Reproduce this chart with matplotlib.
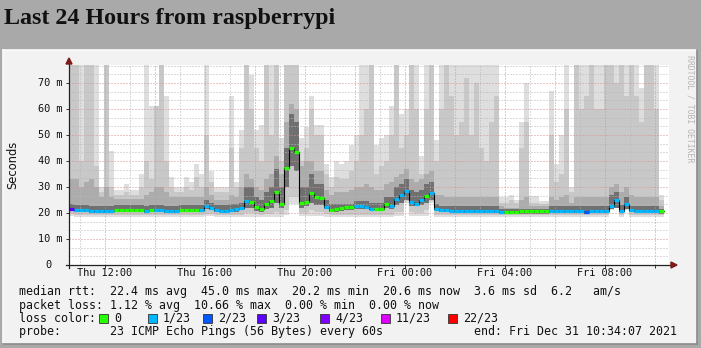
import matplotlib
matplotlib.use("Agg")
import matplotlib.pyplot as plt
import numpy as np
from matplotlib.patches import Rectangle, Polygon
from matplotlib.lines import Line2D

W, H = 701, 348

# 12 minute bins, first one starts Thu 10:34:07 (hours since Thu 00:00)
t0 = 10 + 34 / 60 + 7 / 3600
step = 0.2

# smoke: sorted ping ranks per bin (ms), 80 = above the graph top
p22 = [80, 80, 80, 80, 80, 80, 30, 80, 44, 29,
       29, 31, 29, 29, 35, 80, 61, 61, 80, 65,
       34, 30, 30, 34, 32, 39, 35, 80, 36, 30,
       30, 30, 65, 32, 52, 80, 73, 52, 54, 80,
       80, 80, 49, 80, 80, 80, 49, 53, 65, 54,
       54, 39, 34, 40, 39, 40, 46, 50, 80, 80,
       80, 46, 49, 50, 61, 80, 58, 60, 80, 80,
       42, 80, 80, 48, 80, 80, 80, 80, 80, 80,
       80, 80, 80, 80, 80, 80, 26, 26, 27, 25,
       55, 70, 26.5, 26.5, 24.5, 24.5, 67, 39, 50, 80,
       30, 80, 80, 80, 80, 80, 80, 80, 80, 80,
       80, 80, 80, 80, 68, 80, 80, 80, 27]
p20 = [80, 80, 40, 80, 80, 38, 28, 80, 30, 27,
       27, 28, 27, 27, 30, 40, 33, 61, 80, 40,
       30, 28, 28, 30, 29, 34, 30, 50, 32, 28,
       28, 28, 45, 30, 45, 80, 60, 45, 40, 80,
       50, 80, 40, 80, 80, 80, 40, 45, 60, 50,
       50, 35, 30, 34, 33, 33, 36, 40, 50, 60,
       80, 35, 38, 40, 50, 80, 45, 50, 80, 60,
       35, 60, 80, 40, 60, 80, 65, 50, 55, 72,
       50, 70, 45, 40, 55, 65, 24, 24, 25, 24,
       45, 55, 24, 24, 23.5, 23.5, 50, 32, 35, 60,
       28, 80, 60, 65, 80, 60, 60, 80, 80, 70,
       80, 65, 80, 65, 55, 80, 80, 60, 25]
p16 = [33, 33, 30, 32, 33, 30, 26, 30, 26, 25.5,
       25.5, 25.5, 25.5, 25.5, 25.5, 27, 28, 30, 30, 28,
       26, 26, 26, 26, 26, 26, 26, 30, 27, 25,
       25, 25, 27, 26, 30, 35, 33, 30, 29, 33,
       35, 42, 35, 55, 62, 60, 38, 40, 40, 36,
       36, 29, 27, 28, 28, 28, 29, 30, 30, 31,
       30, 29, 29, 31, 32, 34, 35, 37, 33, 32,
       33, 35, 36, 27, 27, 26, 26, 26, 26, 26,
       26, 26, 26, 26, 26, 26, 22.5, 22, 22, 22,
       25, 26, 22.5, 22.5, 22.5, 22.5, 26, 25, 26, 27,
       24, 26, 26, 26, 26, 26, 26, 26, 30, 31,
       28, 30, 27, 26, 26, 26, 26, 26, 22.5]
p13 = [23.5, 23, 23, 23, 22.8, 22.8, 22.8, 22.8, 22.8, 23,
       23, 23, 23, 23, 23, 22.8, 23, 23, 23, 22.8,
       22.8, 22.8, 23, 23, 23, 23, 23, 25, 24, 23,
       23, 23, 23.5, 23.5, 24, 30, 30, 26, 25, 28,
       30, 37, 30, 45, 58, 55, 30, 30, 35, 31,
       31, 25, 23.5, 23.5, 23.5, 23.5, 23.5, 24.5, 24.5, 24.5,
       24, 24, 24, 26, 26, 30, 31, 33, 29, 28,
       29, 31, 32, 23.5, 22.5, 22.5, 22.5, 22.5, 22.5, 22.5,
       22.5, 22.5, 22.5, 22.5, 22.5, 22.5, 21.5, 21.5, 21.5, 21.5,
       21.5, 21.5, 21.5, 21.5, 21.5, 21.5, 22.5, 22.5, 22.5, 22.5,
       22.5, 22.5, 22.5, 22.5, 22.5, 22.5, 22.5, 22.5, 27, 28,
       23, 26, 22.5, 22.5, 22.5, 22.5, 22.5, 22.5, 21.5]
median = [21.7, 21.2, 21.2, 21.0, 20.8, 20.8, 20.8, 20.8, 20.8, 21.0,
          21.0, 21.2, 21.0, 21.2, 21.2, 20.8, 21.0, 21.0, 21.0, 20.8,
          20.8, 20.8, 21.0, 21.2, 21.2, 21.0, 21.2, 22.8, 22.0, 21.2,
          20.8, 20.6, 21.2, 21.5, 22.1, 24.5, 24.2, 22.2, 21.4, 23.3,
          24.6, 28.2, 23.5, 37.4, 45.0, 43.5, 23.8, 24.4, 27.7, 26.0,
          25.6, 22.4, 21.2, 21.5, 21.9, 22.2, 22.3, 22.8, 22.8, 22.4,
          21.7, 21.7, 21.7, 23.6, 22.6, 25.2, 26.8, 28.3, 24.2, 23.6,
          24.9, 26.7, 27.7, 21.7, 21.3, 21.3, 20.9, 20.9, 20.6, 20.6,
          20.6, 20.6, 20.6, 20.6, 20.6, 20.6, 20.2, 20.2, 20.2, 20.4,
          20.6, 20.6, 20.6, 20.6, 20.6, 20.6, 20.6, 20.6, 20.6, 20.6,
          20.6, 20.6, 20.6, 20.4, 20.6, 20.6, 20.6, 20.6, 22.8, 25.1,
          20.9, 23.6, 21.2, 20.9, 20.9, 20.9, 20.9, 20.9, 20.6]
p6 = [21.0, 20.3, 20.3, 20.2, 20.0, 20.0, 20.0, 20.0, 20.0, 20.2,
      20.2, 20.2, 20.2, 20.2, 20.2, 20.0, 20.2, 20.2, 20.2, 20.0,
      20.0, 20.0, 20.2, 20.4, 20.4, 20.2, 20.4, 21.5, 21.0, 20.4,
      20.2, 20.0, 20.5, 20.5, 21.0, 22.0, 22.0, 20.8, 20.5, 21.5,
      22.0, 24.0, 22.0, 30.0, 38.0, 36.0, 22.0, 22.5, 24.0, 23.0,
      23.0, 21.5, 20.5, 20.5, 20.8, 21.0, 21.0, 21.5, 21.5, 21.5,
      21.0, 21.0, 21.0, 22.0, 21.5, 23.0, 24.0, 25.0, 22.5, 22.5,
      23.0, 24.0, 25.0, 21.0, 20.5, 20.5, 20.2, 20.2, 20.0, 20.0,
      20.0, 20.0, 20.0, 20.0, 20.0, 20.0, 19.7, 19.7, 19.7, 19.8,
      19.8, 19.8, 19.8, 19.8, 19.8, 19.8, 20.0, 20.0, 20.0, 20.0,
      20.0, 20.0, 20.0, 19.8, 20.0, 20.0, 20.0, 20.0, 21.5, 22.0,
      20.3, 21.5, 20.3, 20.2, 20.2, 20.2, 20.2, 20.2, 19.8]
p2 = [19.8, 19.3, 19.3, 19.3, 19.3, 19.3, 19.3, 19.3, 19.3, 19.3,
      19.3, 19.3, 19.3, 19.3, 19.3, 19.3, 19.3, 19.3, 19.3, 19.3,
      19.3, 19.3, 19.3, 19.3, 19.3, 19.3, 19.3, 19.8, 19.8, 19.3,
      19.3, 19.3, 19.3, 19.3, 19.3, 20.0, 20.0, 19.5, 19.3, 19.5,
      19.8, 20.5, 19.8, 21.0, 26.0, 26.0, 20.0, 20.0, 21.0, 20.5,
      20.5, 19.5, 19.3, 19.3, 19.3, 19.3, 19.3, 19.3, 19.3, 19.3,
      19.3, 19.3, 19.3, 19.3, 19.3, 20.5, 20.5, 24.5, 20.5, 20.0,
      20.0, 21.0, 24.5, 19.3, 19.3, 19.3, 19.3, 19.3, 19.3, 19.3,
      19.3, 19.3, 19.3, 19.3, 19.3, 19.3, 19.3, 19.3, 19.3, 19.3,
      19.3, 19.3, 19.3, 19.3, 19.3, 19.3, 19.3, 19.3, 19.3, 19.3,
      19.3, 19.3, 19.3, 19.3, 19.3, 19.3, 19.3, 19.3, 21.5, 22.5,
      19.3, 21.5, 19.3, 19.3, 19.3, 19.3, 19.3, 19.3, 19.3]
p0 = [18.8, 18.3, 18.3, 18.3, 18.3, 18.3, 18.3, 18.3, 18.3, 18.3,
      18.3, 18.3, 18.3, 18.3, 18.3, 18.3, 18.3, 18.3, 18.3, 18.3,
      18.3, 18.3, 18.3, 18.3, 18.3, 18.3, 18.3, 19.0, 18.8, 18.3,
      18.3, 18.3, 18.3, 18.3, 18.3, 18.3, 18.3, 18.3, 18.3, 18.3,
      18.3, 18.3, 18.3, 19.3, 23.5, 23.5, 18.8, 18.8, 19.0, 18.8,
      18.8, 18.3, 18.3, 18.3, 18.3, 18.3, 18.3, 18.3, 18.3, 18.3,
      18.3, 18.3, 18.3, 18.3, 18.3, 18.8, 19.0, 24.0, 19.0, 18.8,
      18.8, 19.0, 24.0, 18.3, 18.3, 18.3, 18.3, 18.3, 18.3, 18.3,
      18.3, 18.3, 18.3, 18.3, 18.3, 18.3, 18.3, 18.3, 18.3, 18.3,
      18.3, 18.3, 18.3, 18.3, 18.3, 18.3, 18.3, 18.3, 18.3, 18.3,
      18.3, 18.3, 18.3, 18.3, 18.3, 18.3, 18.3, 18.3, 21.0, 22.0,
      18.3, 21.0, 18.3, 18.3, 18.3, 18.3, 18.3, 18.3, 18.3]
# packet loss class per bin (index into loss_labels)
loss = [3, 1, 1, 1, 1, 1, 1, 1, 1, 0,
        0, 0, 0, 0, 0, 1, 0, 1, 1, 1,
        1, 1, 0, 0, 0, 0, 1, 1, 1, 1,
        1, 1, 1, 1, 1, 1, 0, 0, 0, 0,
        0, 0, 0, 0, 0, 0, 0, 0, 0, 0,
        0, 1, 0, 0, 0, 0, 0, 1, 1, 1,
        1, 0, 0, 0, 1, 1, 1, 1, 1, 1,
        1, 0, 1, 1, 1, 1, 1, 1, 1, 1,
        1, 1, 1, 1, 1, 1, 1, 0, 0, 0,
        0, 0, 0, 0, 0, 0, 1, 1, 1, 1,
        1, 1, 1, 2, 1, 1, 1, 1, 1, 1,
        1, 1, 1, 1, 1, 1, 1, 1, 0]

loss_labels = ['0', '1/23', '2/23', '3/23', '4/23', '11/23', '22/23']
loss_colors = ['#26ff00', '#00b8ff', '#0059ff', '#5e00ff', '#7e00ff', '#dd00ff', '#ff0000']

x_ticks = [12, 16, 20, 24, 28, 32]
x_labels = ['Thu 12:00', 'Thu 16:00', 'Thu 20:00', 'Fri 00:00', 'Fri 04:00', 'Fri 08:00']
y_ticks = [0, 10, 20, 30, 40, 50, 60, 70]
y_labels = ['0', '10 m', '20 m', '30 m', '40 m', '50 m', '60 m', '70 m']


def fp(x, y):
    # pixel (from top left) -> figure fraction
    return x / W, 1 - y / H


mono = 'DejaVu Sans Mono'

fig = plt.figure(figsize=(W / 100, H / 100), dpi=100, facecolor='#a9a9a9')

# panel
px0, py0, px1, py1 = 3, 50, 697, 344
fig.patches.append(Rectangle(fp(px0, py1), (px1 - px0) / W, (py1 - py0) / H,
                             transform=fig.transFigure, facecolor='#f2f2f2',
                             edgecolor='none', zorder=-10))
for xs, ys, c in [((px0, px1), (py0, py0), '#fbfbfb'), ((px0, px0), (py0, py1), '#fbfbfb'),
                  ((px1, px1), (py0, py1), '#8a8a8a'), ((px0, px1), (py1, py1), '#8a8a8a')]:
    fig.lines.append(Line2D([xs[0] / W, xs[1] / W], [1 - ys[0] / H, 1 - ys[1] / H],
                            transform=fig.transFigure, color=c, lw=1.2, zorder=-9))

fig.text(*fp(4, 24), 'Last 24 Hours from raspberrypi', family='Liberation Serif',
         weight='bold', fontsize=17.3, color='#111111', va='baseline', ha='left')

# plot area
ytop = 77.0
ax = fig.add_axes([69 / W, 1 - 265 / H, 600 / W, (ytop * 2.6) / H])
ax.set_zorder(0)
ax.set_facecolor('white')
ax.set_xlim(t0, t0 + 24)
ax.set_ylim(0, ytop)
for s in ax.spines.values():
    s.set_visible(False)

n = len(median)
edges = t0 + step * np.arange(n + 1)


def ext(a):
    a = np.asarray(a, dtype=float)
    return np.r_[a, a[-1]]


ax.fill_between(edges, ext(p0), ext(p22), step='post', color='#dedede', lw=0, zorder=1)
ax.fill_between(edges, ext(p2), ext(p20), step='post', color='#c8c8c8', lw=0, zorder=1.1)
ax.fill_between(edges, ext(p6), ext(p16), step='post', color='#acacac', lw=0, zorder=1.2)
ax.fill_between(edges, ext(p6), ext(p13), step='post', color='#707070', lw=0, zorder=1.3)

# grid
ax.set_yticks(y_ticks)
ax.set_yticks(np.arange(0, ytop, 10 / 3), minor=True)
ax.set_xticks(np.arange(12, 35, 2))
ax.set_xticks(np.arange(11, 35, 1), minor=True)
ax.set_axisbelow(False)
ax.grid(which='minor', color='#b8b8b8', linestyle=(0, (1, 2)), lw=0.72)
ax.grid(which='major', color='#d88f8f', linestyle=(0, (1, 2)), lw=0.72)
ax.tick_params(which='both', labelleft=False, labelbottom=False, color='#333333', width=0.7)
ax.tick_params(which='major', direction='out', length=2.5)
ax.tick_params(which='minor', length=0)

# median, coloured by loss
ax.step(edges, ext(median), where='post', color='black', lw=0.8, zorder=3)
ax.hlines(median, edges[:-1], edges[1:], colors=[loss_colors[c] for c in loss],
          lw=2.3, zorder=4, capstyle='butt')

# axes with arrows
fig.lines.append(Line2D([69 / W] * 2, [1 - 268 / H, 1 - 62 / H], transform=fig.transFigure,
                        color='#222222', lw=0.9, zorder=5))
fig.lines.append(Line2D([66 / W, 673 / W], [1 - 265 / H] * 2, transform=fig.transFigure,
                        color='#222222', lw=0.9, zorder=5))
fig.patches.append(Polygon([fp(69, 58), fp(66, 64), fp(72, 64)], closed=True,
                           transform=fig.transFigure, color='#7d1a1a', zorder=5))
fig.patches.append(Polygon([fp(677, 265), fp(671, 262), fp(671, 268)], closed=True,
                           transform=fig.transFigure, color='#7d1a1a', zorder=5))

# axis labels
for v, lab in zip(y_ticks, y_labels):
    yy = 265 - v * 2.6
    xr = 63 if v else 51
    fig.text(*fp(xr, yy), lab, family=mono, fontsize=7.4, ha='right', va='center',
             color='#111111')
for v, lab in zip(x_ticks, x_labels):
    xx = 69 + (v - t0) * 25
    fig.text(*fp(xx, 273), lab, family=mono, fontsize=7.4, ha='center', va='center',
             color='#111111')
fig.text(*fp(13, 165), 'Seconds', family='DejaVu Sans', fontsize=8.3, rotation=90,
         ha='center', va='center', color='#111111')
fig.text(*fp(690, 55), 'RRDTOOL / TOBI OETIKER', family=mono, fontsize=5.9, rotation=270,
         ha='center', va='top', color='#b5b5b5')

# legend (monospace rows)
leg = dict(family=mono, fontsize=8.35, va='center', ha='left', color='#111111')
r1, r2, r3, r4 = 292, 305, 318, 331
fig.text(*fp(19, r1), 'median rtt:  22.4 ms avg  45.0 ms max  20.2 ms min  '
         '20.6 ms now  3.6 ms sd  6.2   am/s', **leg)
fig.text(*fp(19, r2), 'packet loss: 1.12 % avg  10.66 % max  0.00 % min  0.00 % now', **leg)
fig.text(*fp(19, r3), 'loss color:', **leg)
sq_x = [99, 148, 203, 257, 320, 381, 448]
for x, lab, col in zip(sq_x, loss_labels, loss_colors):
    fig.patches.append(Rectangle(fp(x, r3 + 4.5), 9 / W, 9 / H, transform=fig.transFigure,
                                 facecolor=col, edgecolor='#333333', lw=0.6))
    fig.text(*fp(x + 15, r3), lab, **leg)
fig.text(*fp(19, r4), 'probe:       23 ICMP Echo Pings (56 Bytes) every 60s'
         '             end: Fri Dec 31 10:34:07 2021', **leg)

fig.savefig('out.png', dpi=100, facecolor=fig.get_facecolor())
